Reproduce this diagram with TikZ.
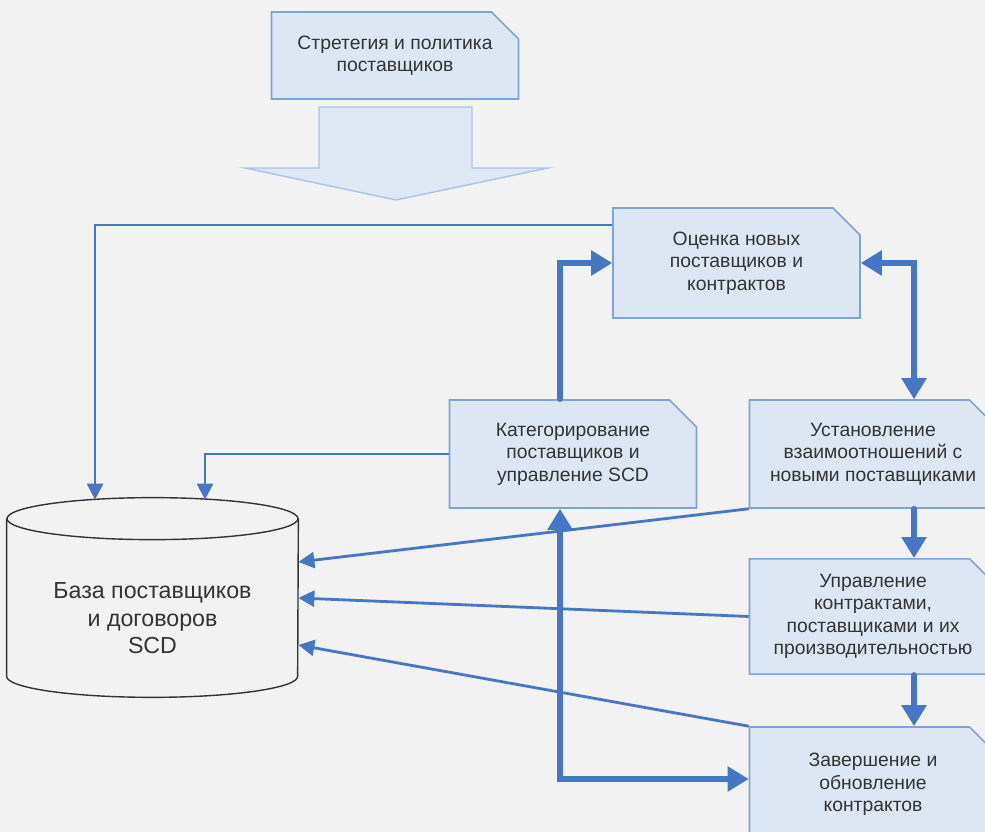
\documentclass[tikz,border=0pt]{standalone}
\usepackage{fontspec}
\setmainfont{Liberation Sans}
\usetikzlibrary{calc,shapes.misc,arrows.meta}
\definecolor{bgcol}{HTML}{F2F2F2}
\definecolor{boxfill}{HTML}{DDE7F3}
\definecolor{boxline}{HTML}{7EA3D8}
\definecolor{linkcol}{HTML}{4676C6}
\definecolor{txtcol}{HTML}{333333}
\definecolor{bigfill}{HTML}{DFE8F5}
\definecolor{bigline}{HTML}{A9C3E6}

\begin{document}
\begin{tikzpicture}[
  box/.style={draw=boxline,fill=boxfill,line width=0.9pt,chamfered rectangle,
    chamfered rectangle corners=north east,chamfered rectangle sep=0.27cm,
    minimum width=4.94cm,minimum height=2.16cm,inner sep=1pt,align=center,
    text=txtcol,font=\fontsize{11}{12.8}\selectfont},
  dbline/.style={draw=black!80,line width=0.8pt},
  thinarr/.style={draw=linkcol,line width=1.6pt,>={Triangle[length=0.32cm,width=0.32cm]},->},
  thickarr/.style={draw=linkcol,line width=3.2pt,line cap=round,>={Triangle[length=0.42cm,width=0.48cm]},->},
  thickboth/.style={thickarr,<->}]
  \fill[bgcol] (0,0) rectangle (19.7,16.64);
  \useasboundingbox (0,0) rectangle (19.7,16.64);

  % strategy box and the wide arrow below it
  \node[box,minimum height=1.74cm] (strat) at (7.9,15.53) {Стретегия и политика\\поставщиков};
  \draw[draw=bigline,fill=bigfill,line width=0.8pt] (6.38,14.5) -- (9.44,14.5) -- (9.44,13.28)
    -- (10.96,13.28) -- (7.92,12.64) -- (4.9,13.28) -- (6.38,13.28) -- cycle;

  % process boxes
  \node[box,minimum height=2.2cm] (ocen) at (14.73,11.38) {Оценка новых\\поставщиков и\\контрактов};
  \node[box] (kat) at (11.46,7.56) {Категорирование\\поставщиков и\\управление SCD};
  \node[box] (ust) at (17.46,7.56) {Установление\\взаимоотношений с\\новыми поставщиками};
  \node[box,minimum height=2.14cm] (upr) at (17.46,4.31) {Управление\\контрактами,\\поставщиками и их\\производительностью};
  \node[box,minimum height=2.3cm] (zav) at (17.46,0.95) {Завершение и\\обновление\\контрактов};

  % database: body node plus drawn ends
  \node[minimum width=5.82cm,minimum height=3.14cm,align=center,text=txtcol,
    font=\fontsize{13.2}{15.6}\selectfont] (base) at (3.05,4.27) {База поставщиков\\и договоров\\SCD};
  \draw[dbline] ([yshift=0.42cm]base.north) ellipse [x radius=2.91cm,y radius=0.42cm];
  \draw[dbline] ([yshift=0.42cm]base.north west) -- ([yshift=0.42cm]base.south west)
    arc[start angle=180,end angle=360,x radius=2.91cm,y radius=0.42cm] -- ([yshift=0.42cm]base.north east);

  % links to the database
  \draw[thinarr] ([yshift=0.76cm]ocen.west) -| ([xshift=-1.15cm,yshift=0.8cm]base.north);
  \draw[thinarr] (kat.west) -| ([xshift=1.05cm,yshift=0.8cm]base.north);
  \draw[thinarr] (ust.south west) -- ([yshift=1.13cm]base.east);
  \draw[thinarr] (upr.west) -- ([yshift=0.41cm]base.east);
  \draw[thinarr] (zav.north west) -- ([yshift=-0.53cm]base.east);

  % main cycle
  \draw[thickarr] ([xshift=-0.26cm]kat.north) |- (ocen.west);
  \draw[thickboth] (ocen.east) -| ([xshift=0.82cm]ust.north);
  \draw[thickarr] ([xshift=0.82cm]ust.south) -- ([xshift=0.82cm]upr.north);
  \draw[thickarr] ([xshift=0.82cm]upr.south) -- ([xshift=0.82cm]zav.north);
  \draw[thickboth] ([xshift=-0.26cm]kat.south) |- ([yshift=0.11cm]zav.west);
\end{tikzpicture}
\end{document}
